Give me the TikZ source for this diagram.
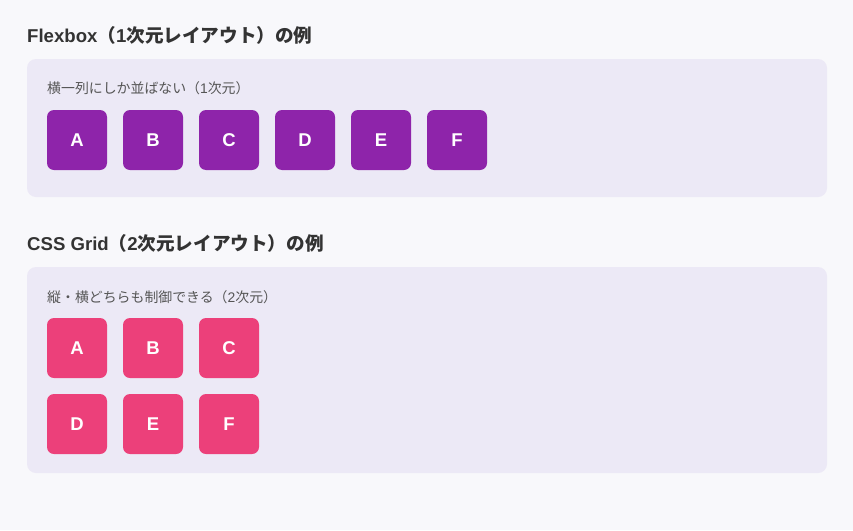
\documentclass[tikz,border=0pt]{standalone}
\usepackage{fontspec}
\setmainfont{Noto Sans CJK JP}
\newfontfamily\jp{Noto Sans CJK JP}
\newfontfamily\lat{Liberation Sans}
\definecolor{bg}{HTML}{F8F8FB}
\definecolor{panel}{HTML}{ECE9F6}
\definecolor{flexc}{HTML}{8E24AA}
\definecolor{gridc}{HTML}{EC407A}
\definecolor{titlec}{HTML}{333333}
\definecolor{subc}{HTML}{555555}
\tikzset{
  panelbox/.style={fill=panel, rounded corners=9pt, draw=none},
  heading/.style={anchor=west, inner sep=0pt, text=titlec, font=\jp\bfseries\fontsize{18.6}{21}\selectfont},
  subhead/.style={anchor=west, inner sep=0pt, text=subc, font=\jp\fontsize{13.9}{16}\selectfont},
  item/.style={minimum width=60pt, minimum height=60pt, inner sep=0pt, rounded corners=7pt, text=white, font=\lat\bfseries\fontsize{18.5}{21}\selectfont},
  flexitem/.style={item, fill=flexc},
  griditem/.style={item, fill=gridc}
}
\begin{document}
\begin{tikzpicture}[x=1pt,y=-1pt]
\fill[bg] (0,0) rectangle (853,530);
\useasboundingbox (0,0) rectangle (853,530);
% Flexbox section
\node[heading] (t1) at (27,35) {{\lat\bfseries Flexbox}（{\lat\bfseries 1}次元レイアウト）の例};
\fill[panelbox] (27,59) rectangle (827,197);
\node[subhead] (s1) at (47,88) {横一列にしか並ばない（{\lat 1}次元）};
\foreach \l [count=\i from 0] in {A,B,C,D,E,F}
  \node[flexitem] (f\l) at (77+76*\i,140) {\l};
% Grid section
\node[heading] (t2) at (27,243) {{\lat\bfseries CSS Grid}（{\lat\bfseries 2}次元レイアウト）の例};
\fill[panelbox] (27,267) rectangle (827,473);
\node[subhead] (s2) at (47,297) {縦・横どちらも制御できる（{\lat 2}次元）};
\foreach \l [count=\i from 0] in {A,B,C}
  \node[griditem] (g\l) at (77+76*\i,348) {\l};
\foreach \l [count=\i from 0] in {D,E,F}
  \node[griditem] (g\l) at (77+76*\i,424) {\l};
\end{tikzpicture}
\end{document}
